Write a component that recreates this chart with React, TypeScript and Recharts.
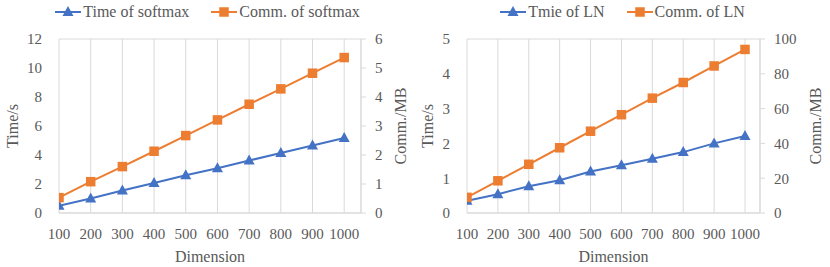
import React from 'react';
import { LineChart, Line, XAxis, YAxis, CartesianGrid, Legend } from 'recharts';

const dims = [100, 200, 300, 400, 500, 600, 700, 800, 900, 1000];
const softmaxTime = [0.5, 1.0, 1.55, 2.07, 2.6, 3.08, 3.62, 4.14, 4.66, 5.17];
const softmaxComm = [0.53, 1.08, 1.6, 2.13, 2.67, 3.21, 3.75, 4.28, 4.82, 5.36];
const lnTime = [0.35, 0.54, 0.77, 0.94, 1.19, 1.37, 1.56, 1.75, 2.0, 2.21];
const lnComm = [9, 18.5, 28, 37.5, 47, 56.5, 66, 75, 84.5, 94];

const softmaxTimeTicks = [0, 2, 4, 6, 8, 10, 12];
const softmaxCommTicks = [0, 1, 2, 3, 4, 5, 6];
const lnTimeTicks = [0, 1, 2, 3, 4, 5];
const lnCommTicks = [0, 20, 40, 60, 80, 100];

const BLUE = '#4472C4';
const ORANGE = '#ED7D31';
const GRID = '#D9D9D9';
const TEXT = '#595959';
const FONT = 'Liberation Serif';

const Triangle = ({ cx, cy, color }: any) => (
  <path d={`M${cx},${cy - 6} L${cx + 5.5},${cy + 4} L${cx - 5.5},${cy + 4} Z`} fill={color} />
);
const Square = ({ cx, cy, color }: any) => (
  <rect x={cx - 4.75} y={cy - 4.75} width={9.5} height={9.5} fill={color} />
);

const LegendIcon = ({ color, shape }: { color: string; shape: 'tri' | 'sq' }) => (
  <svg width={26} height={14} style={{ display: 'block' }}>
    <line x1={0} y1={7} x2={26} y2={7} stroke={color} strokeWidth={2} />
    {shape === 'tri' ? <Triangle cx={13} cy={7} color={color} /> : <Square cx={13} cy={7} color={color} />}
  </svg>
);

interface PanelProps {
  time: number[];
  comm: number[];
  timeLabel: string;
  commLabel: string;
  timeTicks: number[];
  commTicks: number[];
  xMax: number;
  leftW: number;
  rightW: number;
}

const Panel: React.FC<PanelProps> = ({ time, comm, timeLabel, commLabel, timeTicks, commTicks, xMax, leftW, rightW }) => {
  const data = dims.map((d, i) => ({ dim: d, time: time[i], comm: comm[i] }));
  const tickStyle = { fill: TEXT, fontSize: 15, fontFamily: FONT };

  const renderLegend = () => (
    <div style={{ display: 'flex', justifyContent: 'center', alignItems: 'center', height: 24, fontFamily: FONT, fontSize: 16, color: TEXT }}>
      <LegendIcon color={BLUE} shape="tri" />
      <span style={{ marginLeft: 2, marginRight: 22 }}>{timeLabel}</span>
      <LegendIcon color={ORANGE} shape="sq" />
      <span style={{ marginLeft: 2 }}>{commLabel}</span>
    </div>
  );

  // rotated axis titles, placed from the axis viewBox
  const yTitle = (text: string, side: 'left' | 'right') => (props: any) => {
    const { x, y, width, height } = props.viewBox;
    const tx = side === 'left' ? x + 18 : x + width - 9;
    const ty = y + height / 2;
    return (
      <text x={tx} y={ty} transform={`rotate(-90 ${tx} ${ty})`} textAnchor="middle" fill={TEXT} fontSize={16} fontFamily={FONT}>
        {text}
      </text>
    );
  };

  return (
    <LineChart width={415} height={267} data={data} margin={{ top: 15, right: 0, bottom: 0, left: 0 }} style={{ fontFamily: FONT }}>
      <CartesianGrid stroke={GRID} strokeWidth={1} />
      <Legend verticalAlign="top" content={renderLegend} wrapperStyle={{ top: 0, left: 0, width: 415 }} />
      <XAxis
        dataKey="dim"
        type="number"
        domain={[100, xMax]}
        ticks={dims}
        allowDataOverflow
        height={54}
        tickLine={false}
        tickSize={0}
        tickMargin={15}
        axisLine={{ stroke: GRID }}
        tick={tickStyle}
        interval={0}
        label={{
          content: (props: any) => {
            const { x, width } = props.viewBox;
            return (
              <text x={x + width / 2} y={262} textAnchor="middle" fill={TEXT} fontSize={16} fontFamily={FONT}>
                Dimension
              </text>
            );
          },
        }}
      />
      <YAxis
        yAxisId="left"
        orientation="left"
        width={leftW}
        domain={[0, timeTicks[timeTicks.length - 1]]}
        ticks={timeTicks}
        interval={0}
        tickLine={false}
        tickSize={0}
        tickMargin={17}
        axisLine={false}
        tick={tickStyle}
        label={{ content: yTitle('Time/s', 'left') }}
      />
      <YAxis
        yAxisId="right"
        orientation="right"
        width={rightW}
        domain={[0, commTicks[commTicks.length - 1]]}
        ticks={commTicks}
        interval={0}
        tickLine={{ stroke: GRID }}
        tickSize={5}
        tickMargin={9}
        axisLine={{ stroke: GRID }}
        tick={tickStyle}
        label={{ content: yTitle('Comm./MB', 'right') }}
      />
      <Line
        yAxisId="left"
        dataKey="time"
        stroke={BLUE}
        strokeWidth={2}
        isAnimationActive={false}
        dot={(p: any) => <Triangle key={`t${p.index}`} cx={p.cx} cy={p.cy} color={BLUE} />}
      />
      <Line
        yAxisId="right"
        dataKey="comm"
        stroke={ORANGE}
        strokeWidth={2}
        isAnimationActive={false}
        dot={(p: any) => <Square key={`c${p.index}`} cx={p.cx} cy={p.cy} color={ORANGE} />}
      />
    </LineChart>
  );
};

export default function App() {
  return (
    <div style={{ position: 'absolute', left: 0, top: 0, width: 830, height: 267, display: 'flex', background: '#fff', fontFamily: FONT }}>
      <Panel
        time={softmaxTime}
        comm={softmaxComm}
        timeLabel="Time of softmax"
        commLabel="Comm. of softmax"
        timeTicks={softmaxTimeTicks}
        commTicks={softmaxCommTicks}
        xMax={1053}
        leftW={59}
        rightW={54}
      />
      <Panel
        time={lnTime}
        comm={lnComm}
        timeLabel="Tmie of LN"
        commLabel="Comm. of LN"
        timeTicks={lnTimeTicks}
        commTicks={lnCommTicks}
        xMax={1048.5}
        leftW={52}
        rightW={70}
      />
    </div>
  );
}
